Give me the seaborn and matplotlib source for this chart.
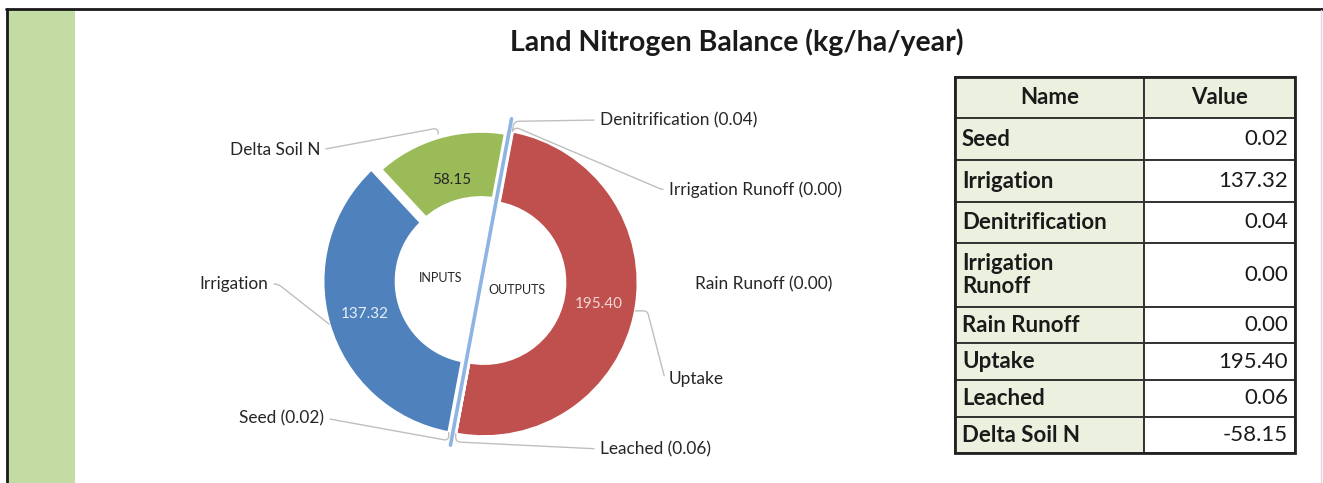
import textwrap
import numpy as np
import matplotlib
matplotlib.use("Agg")
import matplotlib.pyplot as plt
from matplotlib.patches import Rectangle
import seaborn as sns

# data (kg/ha/year)
names = ["Seed", "Irrigation", "Denitrification", "Irrigation Runoff",
         "Rain Runoff", "Uptake", "Leached", "Delta Soil N"]
values = [0.02, 137.32, 0.04, 0.00, 0.00, 195.40, 0.06, -58.15]
outputs = ["Denitrification", "Irrigation Runoff", "Rain Runoff", "Uptake", "Leached"]
inputs = ["Seed", "Irrigation", "Delta Soil N"]

sns.set_theme(style="white")
plt.rcParams['font.family'] = ['Lato', 'DejaVu Sans']

W, H = 1323, 483
fig = plt.figure(figsize=(W / 100, H / 100), dpi=100)

# background axes in pixel coordinates (y down)
bg = fig.add_axes([0, 0, 1, 1])
bg.set_xlim(0, W)
bg.set_ylim(H, 0)
bg.axis('off')
bg.add_patch(Rectangle((8, 10), 67, H, color='#C2DCA4', lw=0))
bg.plot([6, W], [9, 9], color='#1a1a1a', lw=2)
bg.plot([6.5, 6.5], [9, H], color='#1a1a1a', lw=2)
bg.plot([1321, 1321], [10, H], color='#d9d9d9', lw=1)
bg.text(737, 42, "Land Nitrogen Balance (kg/ha/year)", ha='center', va='center',
        fontsize=20.5, fontweight='bold', color='#1a1a1a')

# table
tx0, tx1, tx2 = 955, 1144, 1295
row_h = [41, 42, 42, 41, 64, 36, 37, 37, 36]
y = 77
rows = [("Name", "Value", True)] + [(n, "{:.2f}".format(v), False) for n, v in zip(names, values)]
for (name, val, header), h in zip(rows, row_h):
    bg.add_patch(Rectangle((tx0, y), tx1 - tx0, h, facecolor='#EBF1DE', edgecolor='#333333', lw=1.4))
    bg.add_patch(Rectangle((tx1, y), tx2 - tx1, h, facecolor='#EBF1DE' if header else 'white',
                           edgecolor='#333333', lw=1.4))
    if header:
        bg.text((tx0 + tx1) / 2, y + h / 2, name, ha='center', va='center',
                fontsize=16, fontweight='bold', color='#1a1a1a')
        bg.text((tx1 + tx2) / 2, y + h / 2, val, ha='center', va='center',
                fontsize=16, fontweight='bold', color='#1a1a1a')
    else:
        bg.text(tx0 + 7, y + h / 2, textwrap.fill(name, 15), ha='left', va='center',
                fontsize=16, fontweight='bold', color='#1a1a1a', linespacing=1.1)
        bg.text(tx2 - 7, y + h / 2, val, ha='right', va='center',
                fontsize=16, color='#1a1a1a')
    y += h
bg.add_patch(Rectangle((tx0, 77), tx2 - tx0, y - 77, fill=False, edgecolor='#222222', lw=2))

# donut axes in pixel units centred on the ring
cx, cy, R = 481, 282, 154
ax = fig.add_axes([0, 0, 1, 1])
ax.patch.set_alpha(0)

vals = dict(zip(names, values))
order = outputs + inputs
sizes = [abs(vals[n]) for n in order]
col_map = {"Uptake": '#C0504D', "Irrigation": '#4F81BD', "Delta Soil N": '#9BBB59'}
colors = [col_map.get(n, '#C0504D' if n in outputs else '#4F81BD') for n in order]
explode = [0.057 if n == "Delta Soil N" else 0 for n in order]
split = 10.6  # degrees clockwise from 12 o'clock

wedges, _ = ax.pie(sizes, colors=colors, radius=R, startangle=90 - split, explode=explode,
                   counterclock=False,
                   wedgeprops=dict(width=73, edgecolor='white', linewidth=2))
ax.set_xlim(-cx, W - cx)
ax.set_ylim(-(H - cy), cy)
ax.set_aspect('equal')
ax.axis('off')

# pull the two halves apart across the separator
a = np.deg2rad(90 - split)
normal = np.array([np.sin(a), -np.cos(a)])
shift = {n: 3.0 for n in outputs}
shift.update({"Seed": -4.0, "Irrigation": -4.0})
for n, w in zip(order, wedges):
    if n in shift:
        w.set_center(tuple(shift[n] * normal))
    else:
        w.set_linewidth(7)

ax.plot([-166 * np.cos(a), 166 * np.cos(a)], [-166 * np.sin(a), 166 * np.sin(a)],
        color='#8DB4E2', lw=2.6, zorder=5)

ax.text(441 - cx, cy - 278, "INPUTS", ha='center', va='center', fontsize=9, color='#262626')
ax.text(517 - cx, cy - 290, "OUTPUTS", ha='center', va='center', fontsize=9, color='#262626')

inner_col = {"Uptake": '#F2D6D5', "Irrigation": '#E6EEF8', "Delta Soil N": '#262626'}
inner_r = {"Uptake": 0.76, "Irrigation": 0.76, "Delta Soil N": 0.69}

# outside labels: text position (px, top-based y), side, connection style
label_pos = {
    "Delta Soil N": (320, 150, 'right', "arc,angleA=0,armA=0,angleB=90,armB=6,rad=5"),
    "Irrigation": (268, 284, 'right', "arc,angleA=0,armA=10,angleB=0,armB=0,rad=4"),
    "Seed": (324, 418, 'right', "arc,angleA=0,armA=0,angleB=-90,armB=8,rad=5"),
    "Denitrification": (600, 120, 'left', "arc,angleA=180,armA=0,angleB=80,armB=10,rad=5"),
    "Irrigation Runoff": (669, 190, 'left', "arc,angleA=180,armA=6,angleB=60,armB=5,rad=5"),
    "Rain Runoff": (695, 284, 'left', None),
    "Uptake": (669, 379, 'left', "arc,angleA=180,armA=4,angleB=0,armB=12,rad=4"),
    "Leached": (600, 449, 'left', "arc,angleA=180,armA=0,angleB=-90,armB=8,rad=5"),
}

for n, w in zip(order, wedges):
    mid = np.deg2rad((w.theta1 + w.theta2) / 2)
    ox, oy = w.center
    v = abs(vals[n])
    if v >= 1:
        rr = inner_r[n] * R
        ax.text(ox + rr * np.cos(mid), oy + rr * np.sin(mid), "{:.2f}".format(v),
                ha='center', va='center', fontsize=11, color=inner_col[n])
        label = n
    else:
        label = "{} ({:.2f})".format(n, v)
    px, py, side, cs = label_pos[n]
    pt = (ox + R * np.cos(mid), oy + R * np.sin(mid))
    txt = (px - cx, cy - py)
    if cs is None:
        ax.text(*txt, label, ha='left', va='center', fontsize=12.4, color='#262626')
    else:
        ax.annotate(label, xy=pt, xytext=txt, ha=side, va='center', fontsize=12.4, color='#262626',
                    arrowprops=dict(arrowstyle='-', color='#BFBFBF', lw=1, connectionstyle=cs,
                                    relpos=(1, 0.5) if side == 'right' else (0, 0.5),
                                    shrinkA=2, shrinkB=0))

plt.savefig("out.png", dpi=100)
